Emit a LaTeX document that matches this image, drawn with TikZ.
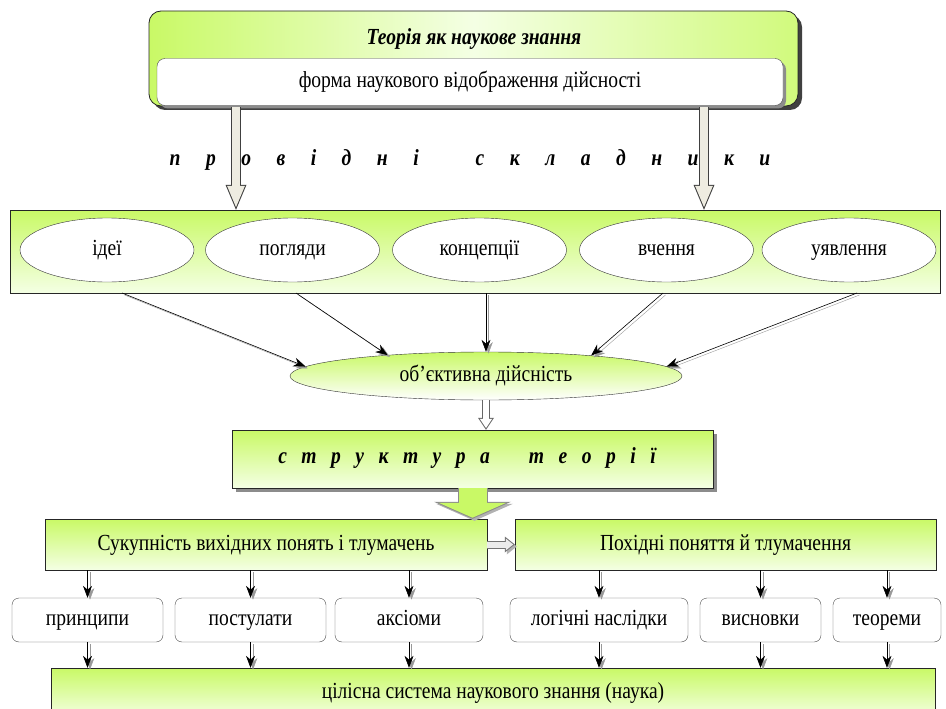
\documentclass[tikz,border=0pt]{standalone}
\usepackage{fontspec}
\setmainfont{Liberation Serif}[FakeStretch=0.85]
\usetikzlibrary{arrows.meta,shapes.geometric,shadows}

\definecolor{lime}{HTML}{C9F966}
\definecolor{palelime}{HTML}{F4FFE4}
\definecolor{beige}{HTML}{EEECE1}
\newcommand{\gapwide}{\hspace{25.5pt}}
\newcommand{\gapnarrow}{\hspace{14.5pt}}

\tikzset{
    greenbox/.style={rectangle,draw=black!85,top color=lime,bottom color=palelime,inner sep=0pt},
    cardbox/.style={rectangle,rounded corners=7pt,draw=black!70,fill=white,inner sep=0pt,minimum height=44pt},
    oval/.style={ellipse,draw=black!80,fill=white,inner sep=0pt,minimum width=174pt,minimum height=64pt},
    spaced/.style={font=\fontsize{23}{26}\selectfont\bfseries\itshape,inner sep=0pt},
    linkarrow/.style={-{Stealth[length=12pt 0 0,width=9pt 0 0]},semithick,
        preaction={draw=black!40,transform canvas={shift={(2.5pt,-2pt)}}}},
    bigarrow/.style={line width=10pt,draw=black!75,
        -{Triangle[length=25pt 0 0,width=21pt 0 0,line width=0pt 0 0]},
        postaction={draw=beige,line width=8pt,shorten >=2.7pt,
        -{Triangle[length=21.3pt 0 0,width=17.9pt 0 0,line width=0pt 0 0]}}},
    midarrow/.style={line width=8pt,draw=black!60,
        -{Triangle[length=12pt 0 0,width=16pt 0 0,line width=0pt 0 0]},
        postaction={draw=white,line width=6pt,shorten >=1.8pt,
        -{Triangle[length=9.2pt 0 0,width=12.3pt 0 0,line width=0pt 0 0]}}},
    sidearrow/.style={line width=8pt,draw=black!55,
        -{Triangle[length=10pt 0 0,width=16pt 0 0,line width=0pt 0 0]},
        preaction={draw=black!30,transform canvas={shift={(2pt,-2pt)}}},
        postaction={draw=black!8,line width=6pt,shorten >=1.6pt,
        -{Triangle[length=7.4pt 0 0,width=11.8pt 0 0,line width=0pt 0 0]}}},
    greenarrow/.style={line width=30pt,draw=black!45,
        -{Triangle[length=17pt 0 0,width=77pt 0 0,line width=0pt 0 0]},
        preaction={draw=black!30,transform canvas={shift={(2pt,-2pt)}}},
        postaction={draw=lime,line width=28pt,shorten >=1.1pt,
        -{Triangle[length=14.9pt 0 0,width=67.5pt 0 0,line width=0pt 0 0]}}}
}

\begin{document}
\begin{tikzpicture}[x=1pt,y=-1pt,font=\fontsize{23}{26}\selectfont,
    every node/.append style={text height=16pt,text depth=5pt}]
    \useasboundingbox (0,0) rectangle (946,709);

    \node[rectangle,draw=black!85,thick,rounded corners=12pt,left color=lime,right color=lime!85,
        middle color=palelime,minimum width=649pt,minimum height=95pt,
        drop shadow={shadow xshift=4pt,shadow yshift=-4pt,fill=black!75,opacity=1}] (theory) at (473.5,58.5) {};
    \node[rectangle,draw=black!70,rounded corners=8pt,fill=white,minimum width=626pt,minimum height=47pt,
        drop shadow={shadow xshift=3pt,shadow yshift=-3pt,fill=black!45,opacity=1}] (form) at (470,82)
        {форма наукового відображення дійсності};
    \node (title) at (474,39) {\bfseries\itshape Теорія як наукове знання};

    \node[spaced] (lead) at (470,160) {п\gapwide р\gapwide о\gapwide в\gapwide і\gapwide д\gapwide н\gapwide і\hspace{57pt}с\gapwide к\gapwide л\gapwide а\gapwide д\gapwide н\gapwide и\gapwide к\gapwide и};

    \node[greenbox,minimum width=930pt,minimum height=83pt] (comps) at (475,251.5) {};
    \node[oval] (ideas) at (107,250) {ідеї};
    \node[oval] (views) at (292.5,250) {погляди};
    \node[oval] (concepts) at (479.5,250) {концепції};
    \node[oval] (teachings) at (666.5,250) {вчення};
    \node[oval] (notions) at (849,250) {уявлення};

    \coordinate (ta) at (236,107);
    \coordinate (tb) at (704,107);
    \draw[bigarrow] (ta) -- (ta |- comps.north);
    \draw[bigarrow] (tb) -- (tb |- comps.north);

    \node[ellipse,draw=black!80,top color=lime,bottom color=white,inner sep=0pt,
        minimum width=392pt,minimum height=48pt] (real) at (486,376) {об’єктивна дійсність};

    \coordinate (s1) at (122,293);
    \coordinate (s2) at (296,293);
    \coordinate (s4) at (663,293);
    \coordinate (s5) at (857,293);
    \draw[linkarrow] (s1) -- (real.177);
    \draw[linkarrow] (s2) -- (real.168);
    \draw[linkarrow] (real.north |- comps.south) -- (real.north);
    \draw[linkarrow] (s4) -- (real.11);
    \draw[linkarrow] (s5) -- (real.3);

    \node[greenbox,minimum width=481pt,minimum height=58pt,
        drop shadow={shadow xshift=4pt,shadow yshift=-4pt,fill=black!45,opacity=1}] (struct) at (472.5,459) {};
    \node[spaced] (structtext) at (467,458) {с\gapnarrow т\gapnarrow р\gapnarrow у\gapnarrow к\gapnarrow т\gapnarrow у\gapnarrow р\gapnarrow а\hspace{39pt}т\gapnarrow е\gapnarrow о\gapnarrow р\gapnarrow і\gapnarrow ї};
    \draw[midarrow] (real.south) -- (real.south |- struct.north);

    \node[greenbox,minimum width=442pt,minimum height=51pt] (base) at (266,544.5) {Сукупність вихідних понять і тлумачень};
    \node[greenbox,minimum width=421pt,minimum height=51pt] (derived) at (725.5,544.5) {Похідні поняття й тлумачення};
    \draw[greenarrow] (struct.south) -- (struct.south |- base.north);
    \draw[sidearrow] (base.east) -- (derived.west);

    \node[cardbox,minimum width=151pt] (principles) at (87.5,620) {принципи};
    \node[cardbox,minimum width=151pt] (postulates) at (250.5,620) {постулати};
    \node[cardbox,minimum width=148pt] (axioms) at (409,620) {аксіоми};
    \node[cardbox,minimum width=178pt] (corollaries) at (599,620) {логічні наслідки};
    \node[cardbox,minimum width=121pt] (conclusions) at (760.5,620) {висновки};
    \node[cardbox,minimum width=108pt] (theorems) at (887,620) {теореми};

    \node[greenbox,minimum width=884pt,minimum height=50pt] (science) at (493,693) {цілісна система наукового знання (наука)};

    \draw[linkarrow] (principles.north |- base.south) -- (principles.north);
    \draw[linkarrow] (postulates.north |- base.south) -- (postulates.north);
    \draw[linkarrow] (axioms.north |- base.south) -- (axioms.north);
    \draw[linkarrow] (corollaries.north |- derived.south) -- (corollaries.north);
    \draw[linkarrow] (conclusions.north |- derived.south) -- (conclusions.north);
    \draw[linkarrow] (theorems.north |- derived.south) -- (theorems.north);

    \draw[linkarrow] (principles.south) -- (principles.south |- science.north);
    \draw[linkarrow] (postulates.south) -- (postulates.south |- science.north);
    \draw[linkarrow] (axioms.south) -- (axioms.south |- science.north);
    \draw[linkarrow] (corollaries.south) -- (corollaries.south |- science.north);
    \draw[linkarrow] (conclusions.south) -- (conclusions.south |- science.north);
    \draw[linkarrow] (theorems.south) -- (theorems.south |- science.north);
\end{tikzpicture}
\end{document}
